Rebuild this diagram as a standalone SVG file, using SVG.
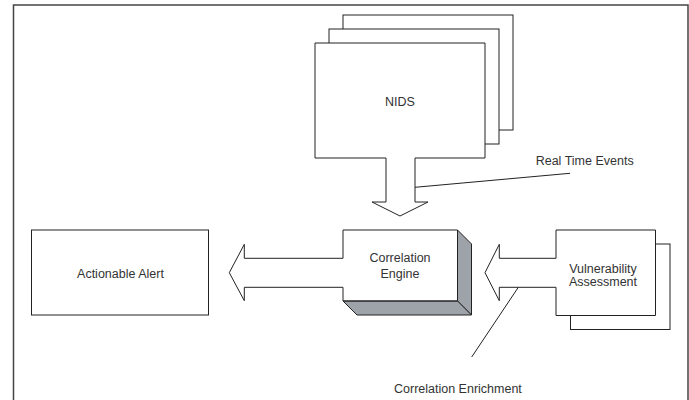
<svg xmlns="http://www.w3.org/2000/svg" width="689" height="400" viewBox="0 0 689 400">
<style>
  .ln { fill: none; stroke: #222; stroke-width: 1; }
  .box { fill: #fff; stroke: #222; stroke-width: 1; }
  .fill { fill: #fff; stroke: none; }
  .shade { fill: #9ea3aa; stroke: #222; stroke-width: 1; stroke-linejoin: round; }
  .arrow { fill: #fff; stroke: #222; stroke-width: 1; stroke-linejoin: miter; }
  text { font-family: "Liberation Sans", Arial, sans-serif; font-size: 12.5px; fill: #333; }
  .c { text-anchor: middle; }
</style>
<rect x="0" y="0" width="689" height="400" fill="#fff"/>
<path d="M13.5,400 V5 H688 V400" fill="none" stroke="#444" stroke-width="1.5"/>

<g id="nids">
  <rect class="box" x="343" y="15" width="170" height="115"/>
  <rect class="box" x="329" y="29" width="170" height="115"/>
  <rect class="fill" x="315" y="43" width="170" height="115"/>
  <path class="ln" d="M386,158 H315 V43 H485 V158 H415"/>
  <text class="c" x="400" y="106">NIDS</text>
</g>

<g id="correlation-engine">
  <rect class="fill" x="343" y="230" width="114.5" height="71"/>
  <polygon class="shade" points="457.5,230 471.5,244 471.5,315 457.5,301"/>
  <polygon class="shade" points="343,301 357,315 471.5,315 457.5,301"/>
  <path class="ln" d="M343,258.3 V230 H457.5 V301 H343 V287.3"/>
  <text class="c" x="400" y="261.7">Correlation</text>
  <text class="c" x="400" y="277.7">Engine</text>
</g>

<g id="actionable-alert">
  <rect class="box" x="31.5" y="230" width="177" height="85"/>
  <text class="c" x="120.5" y="277.7">Actionable Alert</text>
</g>

<g id="vulnerability-assessment">
  <rect class="box" x="570.5" y="244" width="99.5" height="85.5"/>
  <rect class="fill" x="556" y="230" width="99.5" height="85.5"/>
  <path class="ln" d="M556,258.3 V230 H655.5 V315.5 H556 V287.3"/>
  <text class="c" x="603" y="272.8">Vulnerability</text>
  <text class="c" x="603" y="285.5">Assessment</text>
</g>

<g id="connectors">
  <path class="arrow" d="M386,158 V202 H372 L400,216 L428,202 H415 V158"/>
  <path class="arrow" d="M343,258.3 H244.3 V244.3 L229.3,272.7 L244.3,300.7 V287.3 H343"/>
  <path class="arrow" d="M556,258.3 H499.3 V244.3 L485,272.7 L499.3,300.7 V287.3 H556"/>
  <line class="ln" x1="415" y1="187.3" x2="570" y2="173.3"/>
  <line class="ln" x1="518.3" y1="287.3" x2="471.7" y2="357"/>
  <text x="535.7" y="165.3">Real Time Events</text>
  <text x="394" y="392.7">Correlation Enrichment</text>
</g>
</svg>
